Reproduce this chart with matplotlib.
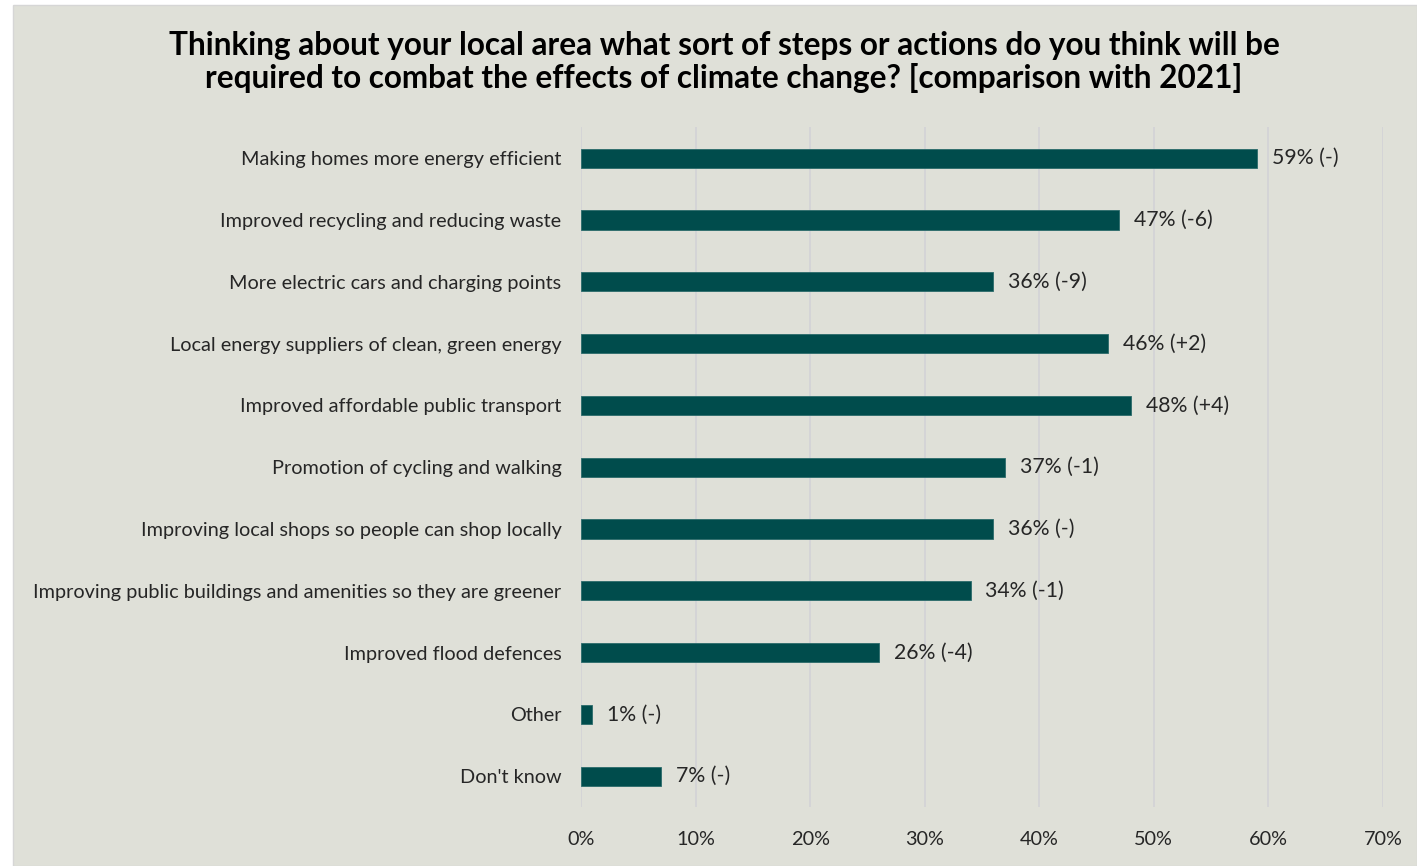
import numpy as np
import matplotlib
matplotlib.use("Agg")
import matplotlib.pyplot as plt
from matplotlib.patches import Rectangle

categories = [
    "Making homes more energy efficient",
    "Improved recycling and reducing waste",
    "More electric cars and charging points",
    "Local energy suppliers of clean, green energy",
    "Improved affordable public transport",
    "Promotion of cycling and walking",
    "Improving local shops so people can shop locally",
    "Improving public buildings and amenities so they are greener",
    "Improved flood defences",
    "Other",
    "Don't know",
]
values = [59, 47, 36, 46, 48, 37, 36, 34, 26, 1, 7]
changes = ["-", "-6", "-9", "+2", "+4", "-1", "-", "-1", "-4", "-", "-"]
xticks = [0, 10, 20, 30, 40, 50, 60, 70]

bg = "#dfe0d8"
bar_color = "#004c4c"
text_color = "#262626"
fs = 14.3

plt.rcParams['font.family'] = ['Lato', 'DejaVu Sans']

fig = plt.figure(figsize=(14.17, 8.66), dpi=100, facecolor="white")
# grey panel with thin frame
fig.patches.append(Rectangle((13 / 1417, 0), 1 - 13 / 1417, 1 - 5 / 866,
                             transform=fig.transFigure, facecolor=bg,
                             edgecolor="#d6d6d6", linewidth=1, zorder=-10))

ax = fig.add_axes([581 / 1417, 0.068, (1383 - 581) / 1417, 0.853 - 0.068])
ax.set_facecolor("none")

y = np.arange(len(categories))
ax.barh(y, values, height=0.31, color=bar_color, edgecolor="#2a6a6a",
        linewidth=0.6, zorder=3)

for yi, v, c in zip(y, values, changes):
    ax.text(v + 1.3, yi, f"{v}% ({c})", va="center", ha="left",
            fontsize=fs + 1, color=text_color)

ax.set_ylim(len(categories) - 0.5, -0.5)
ax.set_xlim(0, 70)
ax.set_yticks(y)
ax.set_yticklabels(categories, fontsize=fs, color=text_color)
ax.set_xticks(xticks)
ax.set_xticklabels([f"{t}%" for t in xticks], fontsize=fs, color=text_color)
ax.tick_params(axis="both", length=0)
ax.tick_params(axis="y", pad=14)
ax.tick_params(axis="x", pad=17)
ax.xaxis.grid(True, color="#d2d2d6", linewidth=1.2, zorder=0)
for s in ax.spines.values():
    s.set_visible(False)

fig.text(724 / 1417, 1 - 62 / 866,
         "Thinking about your local area what sort of steps or actions do you think will be\n"
         "required to combat the effects of climate change? [comparison with 2021]",
         ha="center", va="center", fontsize=22.7, fontweight="bold", color="black",
         linespacing=1.15)

fig.savefig("out.png", dpi=100, facecolor="white")
